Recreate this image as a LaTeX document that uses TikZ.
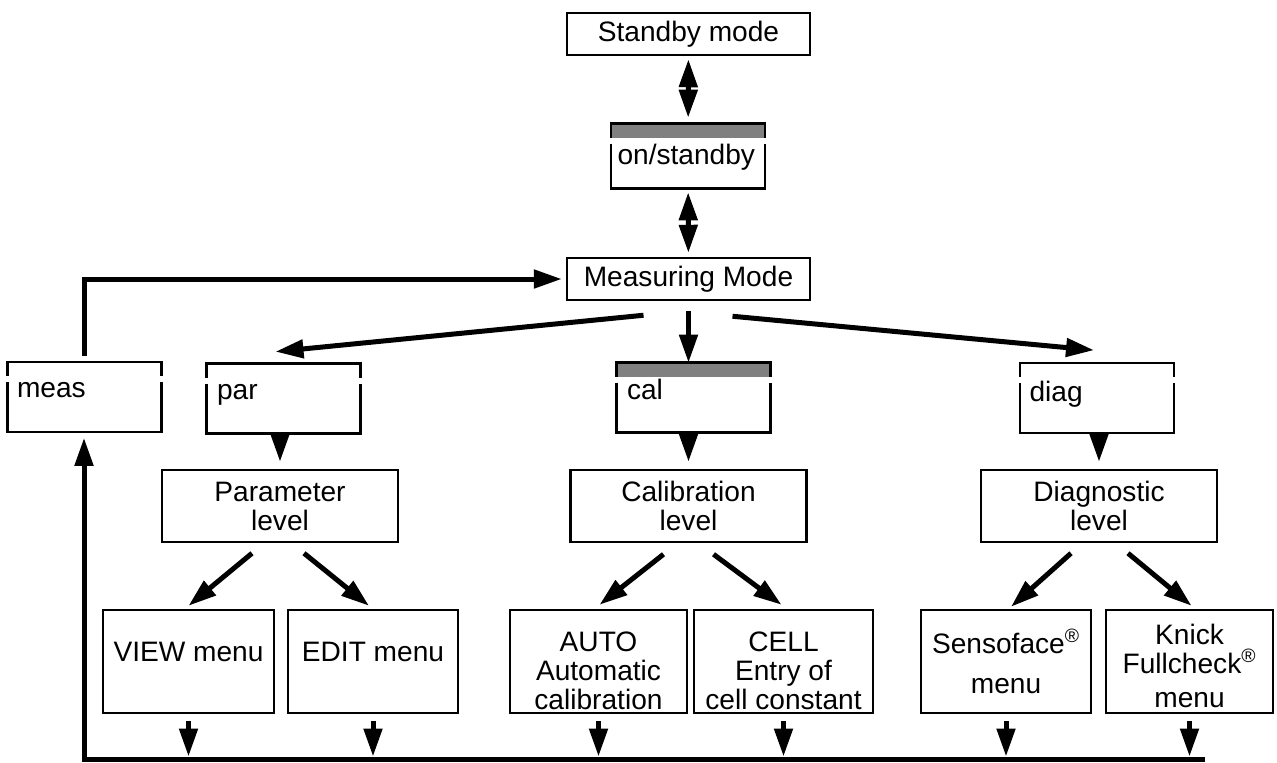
\documentclass[tikz,border=0pt]{standalone}
\usepackage{fontspec}
\setmainfont{Liberation Sans}
\usepackage{xcolor}
\usetikzlibrary{arrows.meta,calc,positioning}
\definecolor{keygray}{gray}{0.5}

\tikzset{
  every node/.style={font=\fontsize{16}{16.5}\selectfont},
  box/.style={draw, line width=0.05cm, inner sep=1pt, align=center},
  modebox/.style={box, minimum width=4.86cm, minimum height=0.84cm},
  levelbox/.style={box, minimum width=4.72cm, minimum height=1.44cm},
  menubox/.style={box, minimum height=2.06cm},
  oneline/.style={text height=0.4cm, text depth=0.4cm},
  keybox/.style={inner sep=0pt, minimum width=3.06cm, minimum height=1.38cm},
  keytext/.style={anchor=base west, inner sep=0pt},
  link/.style={-{Triangle[length=0.56cm,width=0.36cm]}, line width=0.1cm},
  duplex/.style={{Triangle[length=0.56cm,width=0.36cm]}-{Triangle[length=0.56cm,width=0.36cm]}, line width=0.1cm},
}

% key outline with display bar on top
\newcommand{\keyframe}[2]{%
  \fill[#2] (#1.north west) rectangle ($(#1.north east)+(0,14)$);
  \draw[line width=0.05cm] ($(#1.north west)+(0,14)$) -- (#1.north west) -- (#1.north east) -- ++(0,14);
  \draw[line width=0.05cm] ($(#1.north west)+(0,20)$) -- (#1.south west) -- (#1.south east) -- ($(#1.north east)+(0,20)$);
}
\newcommand{\reg}{\textsuperscript{\fontsize{11}{11}\selectfont\textregistered}}
\newcommand{\lowstrut}{\rule{0pt}{0.76cm}}

\begin{document}
\begin{tikzpicture}[x=0.02cm, y=-0.02cm]
    \useasboundingbox (0,0) rectangle (1277,762);

    % Modes
    \node[modebox] (standby) at (688.5,34) {Standby mode};
    \node[keybox, minimum height=1.28cm] (onkey) at (688,156) {};
    \node[modebox] (measmode) at (688.5,279) {Measuring Mode};

    % Keys
    \node[keybox] (meas) at (84.5,397) {};
    \node[keybox] (par) at (283.5,398.5) {};
    \node[keybox] (cal) at (693.5,397.5) {};
    \node[keybox] (diag) at (1097,398) {};
    \keyframe{onkey}{keygray}
    \keyframe{meas}{white}
    \keyframe{par}{white}
    \keyframe{cal}{keygray}
    \keyframe{diag}{white}
    \node[keytext] (onkey-t) at ($(onkey.north west)+(6,41)$) {on/standby};
    \node[keytext] (meas-t) at ($(meas.north west)+(9,35)$) {meas};
    \node[keytext] (par-t) at ($(par.north west)+(10,36)$) {par};
    \node[keytext] (cal-t) at ($(cal.north west)+(10,37)$) {cal};
    \node[keytext] (diag-t) at ($(diag.north west)+(9,38)$) {diag};

    % Levels
    \node[levelbox] (plevel) at (280,506) {Parameter\\level};
    \node[levelbox] (clevel) at (688.5,506) {Calibration\\level};
    \node[levelbox] (dlevel) at (1099,506) {Diagnostic\\level};

    % Menus
    \node[menubox, oneline, minimum width=3.42cm] (view) at (188.5,661.5) {VIEW menu};
    \node[menubox, oneline, minimum width=3.40cm] (edit) at (373,661.5) {EDIT menu};
    \node[menubox, minimum width=3.54cm] (auto) at (598.5,661.5) {\lowstrut AUTO\\Automatic\\calibration};
    \node[menubox, minimum width=3.58cm] (cell) at (783.5,661.5) {\lowstrut CELL\\Entry of\\cell constant};
    \node[menubox, minimum width=3.40cm] (senso) at (1006,661.5) {Sensoface\reg\\[0.22cm]menu};
    \node[menubox, inner ysep=0pt, minimum width=3.34cm] (knick) at (1189.5,661.5) {\rule{0pt}{0.6cm}Knick\\Fullcheck\reg\\[0.1cm]menu};

    % Connections
    \draw[duplex, shorten <=0.06cm, shorten >=0.12cm] (standby) -- (onkey);
    \draw[duplex, shorten <=0.08cm, shorten >=0.08cm] (onkey) -- (measmode);
    \draw[link, shorten <=0.12cm, shorten >=0.08cm] (meas.north) |- (measmode.west);

    \draw[link] ($(measmode.south)+(-45,14)$) -- ($(par.north)+(-8,-12)$);
    \draw[link] ($(measmode.south)+(0,10)$) -- (measmode.south |- cal.north);
    \draw[link] ($(measmode.south)+(44,15)$) -- ($(diag.north)+(-3,-13)$);

    \draw[link, shorten <=0.1cm, shorten >=0.14cm] (plevel.north |- par.south) -- (plevel.north);
    \draw[link, shorten <=0.1cm, shorten >=0.14cm] (clevel.north |- cal.south) -- (clevel.north);
    \draw[link, shorten <=0.1cm, shorten >=0.14cm] (dlevel.north |- diag.south) -- (dlevel.north);

    \draw[link] ($(plevel.south)+(-28,10)$) -- ($(view.north)+(0,-3)$);
    \draw[link] ($(plevel.south)+(24,10)$) -- ($(edit.north)+(-4,-3)$);
    \draw[link] ($(clevel.south)+(-25,11)$) -- ($(auto.north)+(1,-4)$);
    \draw[link] ($(clevel.south)+(25,11)$) -- ($(cell.north)+(-2,-4)$);
    \draw[link] ($(dlevel.south)+(-28,10)$) -- ($(senso.north)+(5,-2)$);
    \draw[link] ($(dlevel.south)+(29,10)$) -- ($(knick.north)+(2,-3)$);

    % Return path
    \coordinate (busL) at (84,759.5);
    \coordinate (busR) at (1205,759.5);
    \foreach \m in {view,edit,auto,cell,senso,knick}
        \draw[link, shorten <=0.14cm, shorten >=0.06cm] (\m.south) -- (\m.south |- busL);
    \draw[link, line join=miter, shorten >=0.12cm] (busR) -- (busL) -- (busL |- meas.south);
\end{tikzpicture}
\end{document}
